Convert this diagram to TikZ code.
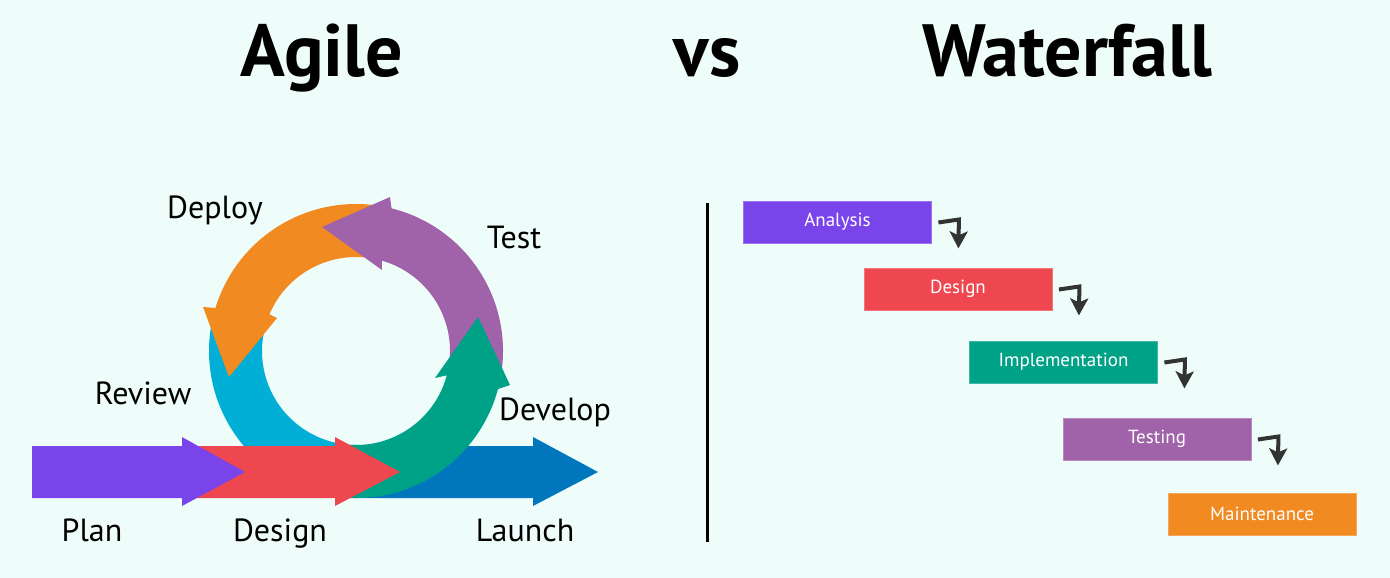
\documentclass[tikz,border=0pt]{standalone}
\usepackage{fontspec}
\setmainfont{PT Sans}
\usetikzlibrary{calc,arrows.meta}

\definecolor{bg}{RGB}{239,253,250}
\definecolor{cPlan}{RGB}{122,68,235}
\definecolor{cDesign}{RGB}{238,71,80}
\definecolor{cLaunch}{RGB}{0,119,189}
\definecolor{cDevelop}{RGB}{0,162,135}
\definecolor{cTest}{RGB}{160,98,168}
\definecolor{cDeploy}{RGB}{242,138,34}
\definecolor{cReview}{RGB}{0,174,214}
\definecolor{ink}{RGB}{51,51,51}

\tikzset{
  title/.style={anchor=base, inner sep=0pt, font=\bfseries\fontsize{74}{80}\selectfont},
  lbl/.style={anchor=base, inner sep=0pt, font=\fontsize{32}{36}\selectfont},
  wbox/.style={minimum width=188pt, minimum height=42pt, inner sep=0pt,
    text=white, font=\fontsize{19}{22}\selectfont},
  wfarrow/.style={draw=ink, line width=4pt, line join=miter,
    -{Stealth[length=17pt,width=18pt,inset=4pt]}},
}

\begin{document}
\begin{tikzpicture}[x=1pt,y=-1pt]
\fill[bg] (0,0) rectangle (1390,578);
\useasboundingbox (0,0) rectangle (1390,578);

% headings
\node[title] (agile) at (322,77) {Agile};
\node[title] (vs) at (707,77) {vs};
\node[title] (waterfall) at (1067,77) {Waterfall};

% ---------- Agile ----------
% Launch arrow (bottom layer)
\fill[cLaunch] (345,446) -- (533,446) -- (533,437) -- (598,472) -- (533,506) -- (533,498) -- (345,498) -- cycle;

% iteration ring, centred at (356,351); y points up inside this scope
\begin{scope}[shift={(356,351)}, yscale=-1]
  \fill[cReview] (168:147) arc[start angle=168, end angle=272, radius=147]
    -- (272:94) arc[start angle=272, end angle=168, radius=94] -- cycle;
  \fill[cDeploy] (82:147) arc[start angle=82, end angle=163, radius=147]
    -- (-153,44) -- (-127,-26) -- (-79,33)
    -- (157:94) arc[start angle=157, end angle=82, radius=94] -- cycle;
  \fill[cTest] (-8:147) arc[start angle=-8, end angle=76, radius=147]
    -- (34,154) -- (-34,124) -- (26,81)
    -- (74:94) arc[start angle=74, end angle=-8, radius=94] -- cycle;
  \fill[cDevelop] (265:147) arc[start angle=265, end angle=345, radius=147]
    -- (154,-34) -- (122,34) -- (79,-27)
    -- (345:94) arc[start angle=345, end angle=265, radius=94] -- cycle;
\end{scope}

% Design and Plan arrows
\fill[cDesign] (195,446) -- (335,446) -- (335,437) -- (400,472) -- (335,506) -- (335,498) -- (195,498) -- cycle;
\fill[cPlan] (32,446) -- (182,446) -- (182,437) -- (245,472) -- (182,506) -- (182,498) -- (32,498) -- cycle;

% stage labels
\node[lbl] (ldeploy) at (215,218) {Deploy};
\node[lbl] (ltest) at (514,248) {Test};
\node[lbl] (lreview) at (143,404) {Review};
\node[lbl] (ldevelop) at (555,420) {Develop};
\node[lbl] (lplan) at (92,541) {Plan};
\node[lbl] (ldesign) at (280,541) {Design};
\node[lbl] (llaunch) at (525,541) {Launch};

% divider
\coordinate (divtop) at (707,203);
\coordinate (divbot) at (707,542);
\draw[line width=3pt, black] (divtop) -- (divbot);

% ---------- Waterfall ----------
\node[wbox, fill=cPlan, draw=cPlan!75!white, line width=0.8pt] (an) at (837.5,222) {Analysis};
\node[wbox, fill=cDesign, draw=cDesign!75!white, line width=0.8pt] (de) at (958,289) {Design};
\node[wbox, fill=cDevelop, draw=cDevelop!75!white, line width=0.8pt] (im) at (1063.5,362) {Implementation};
\node[wbox, fill=cTest, draw=cTest!75!white, line width=0.8pt] (te) at (1157,439) {Testing};
\node[wbox, fill=cDeploy, draw=cDeploy!75!white, line width=0.8pt] (ma) at (1262,514) {Maintenance};

\foreach \b in {an,de,im,te}{
  \draw[wfarrow] ($(\b.east)+(6.5,0.5)$) -- ($(\b.east)+(27,-2.5)$) -- ($(\b.south east)+(26.5,5)$);
}
\end{tikzpicture}
\end{document}
